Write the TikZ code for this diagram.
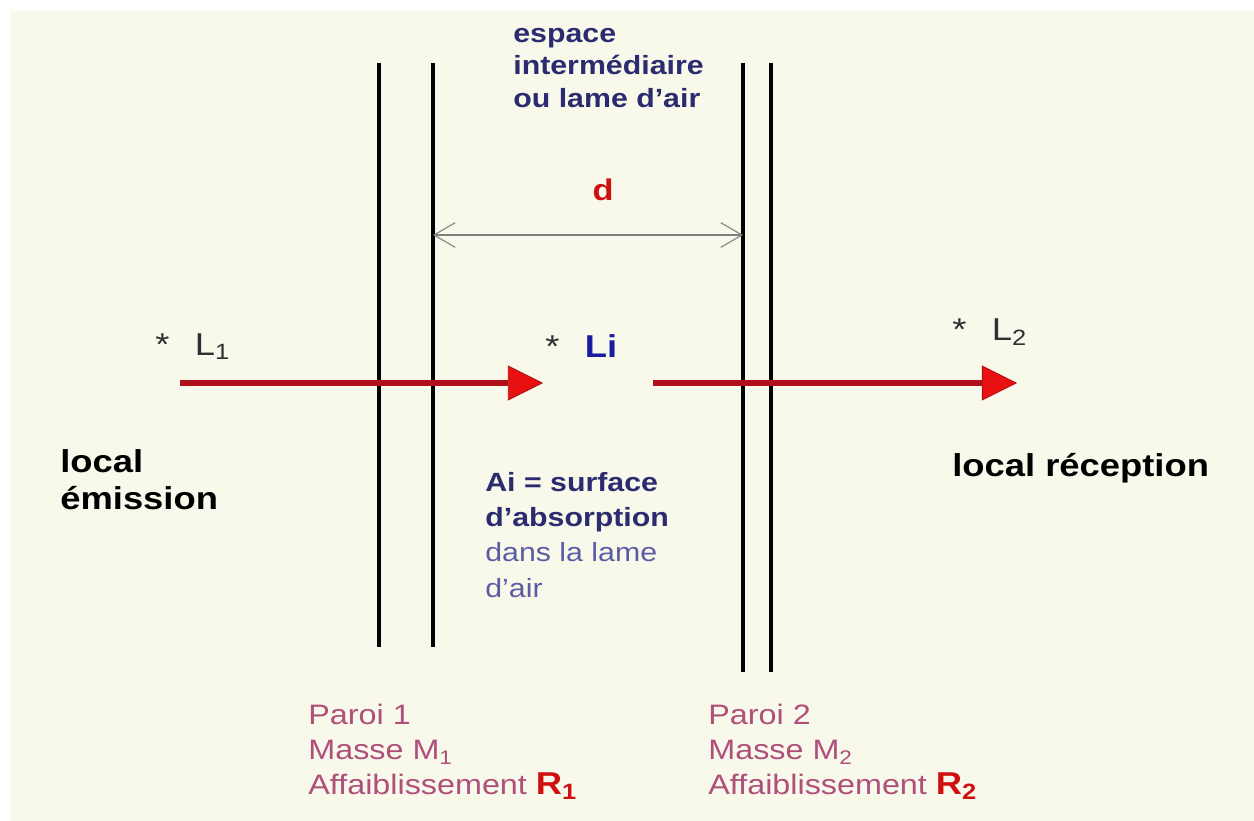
\documentclass[tikz,border=0pt]{standalone}
\usepackage{fontspec}
\setmainfont[FakeStretch=1.15]{Liberation Sans}
\usetikzlibrary{arrows.meta}
\definecolor{fondcolor}{RGB}{248,249,234}
\definecolor{bleufonce}{RGB}{43,43,112}
\definecolor{bleuclair}{RGB}{92,92,165}
\definecolor{bleuli}{RGB}{28,28,160}
\definecolor{rougefleche}{RGB}{176,16,26}
\definecolor{rougepointe}{RGB}{232,16,16}
\definecolor{rouged}{RGB}{208,16,16}
\definecolor{paroicolor}{RGB}{176,80,122}
\definecolor{grisL}{RGB}{48,48,48}

\begin{document}
\begin{tikzpicture}[x=0.02cm, y=-0.02cm,
  paroi/.style={line width=2.8pt, black},
  fleche/.style={rougefleche, line width=3pt,
    -{Triangle[length=20pt, width=20pt, fill=rougepointe, line width=0.5pt]}},
  texte/.style={anchor=west, align=left, inner sep=0pt},
  niveau/.style={anchor=base west, inner sep=0pt, font=\fontsize{18}{21}\selectfont}]
  % Fond
  \useasboundingbox (0,0) rectangle (1254,821);
  \fill[white] (0,0) rectangle (1254,821);
  \fill[fondcolor] (11,11) rectangle (1254,821);

  % Parois (deux lames chacune)
  \foreach \x/\bas in {379/647, 433/647, 743/672, 771/672} {
    \draw[paroi] (\x,63) -- (\x,\bas);
  }

  % Cote d entre les parois
  \coordinate (d1) at (433,235);
  \coordinate (d2) at (743,235);
  \draw[gray, line width=0.6pt,
    {Straight Barb[length=12pt, width=14pt]}-{Straight Barb[length=12pt, width=14pt]}] (d1) -- (d2);
  \node[rouged, font=\bfseries\fontsize{17}{20}\selectfont] (d) at (603,190) {d};
  \node[texte, bleufonce, font=\bfseries\fontsize{15}{18.7}\selectfont] (espace) at (513,68)
    {espace\\intermédiaire\\ou lame d'air};

  % Fleches de transmission
  \coordinate (e1) at (180,383);
  \coordinate (f1) at (543,383);
  \coordinate (e2) at (653,383);
  \coordinate (f2) at (1017,383);
  \draw[fleche] (e1) -- (f1);
  \draw[fleche] (e2) -- (f2);

  % Niveaux sonores
  \node[niveau, grisL] (L1) at (155,355) {*\hspace{0.8em}L\textsubscript{1}};
  \node[niveau, bleuli, font=\bfseries\fontsize{18}{21}\selectfont] (Li) at (545,357) {\mdseries\color{grisL}*\hspace{0.8em}\bfseries\color{bleuli}Li};
  \node[niveau, grisL] (L2) at (952,340) {*\hspace{0.8em}L\textsubscript{2}};

  % Locaux
  \node[texte, font=\bfseries\fontsize{18}{21}\selectfont] (emission) at (60,480) {local\\émission};
  \node[texte, font=\bfseries\fontsize{18}{21}\selectfont] (reception) at (952,468) {local réception};

  % Absorption dans la lame d'air
  \node[texte, bleufonce, font=\fontsize{15}{20}\selectfont] (absorption) at (485,535)
    {\textbf{Ai = surface}\\\textbf{d'absorption}\\{\color{bleuclair}dans la lame}\\{\color{bleuclair}d'air}};

  % Legendes des parois
  \foreach \x/\n in {308/1, 708/2} {
    \node[texte, paroicolor, font=\fontsize{16}{20}\selectfont] (paroi\n) at (\x,752)
      {Paroi \n\\Masse M\textsubscript{\n}\\Affaiblissement {\color{rouged}\bfseries\fontsize{18}{20}\selectfont R\textsubscript{\n}}};
  }
\end{tikzpicture}
\end{document}
